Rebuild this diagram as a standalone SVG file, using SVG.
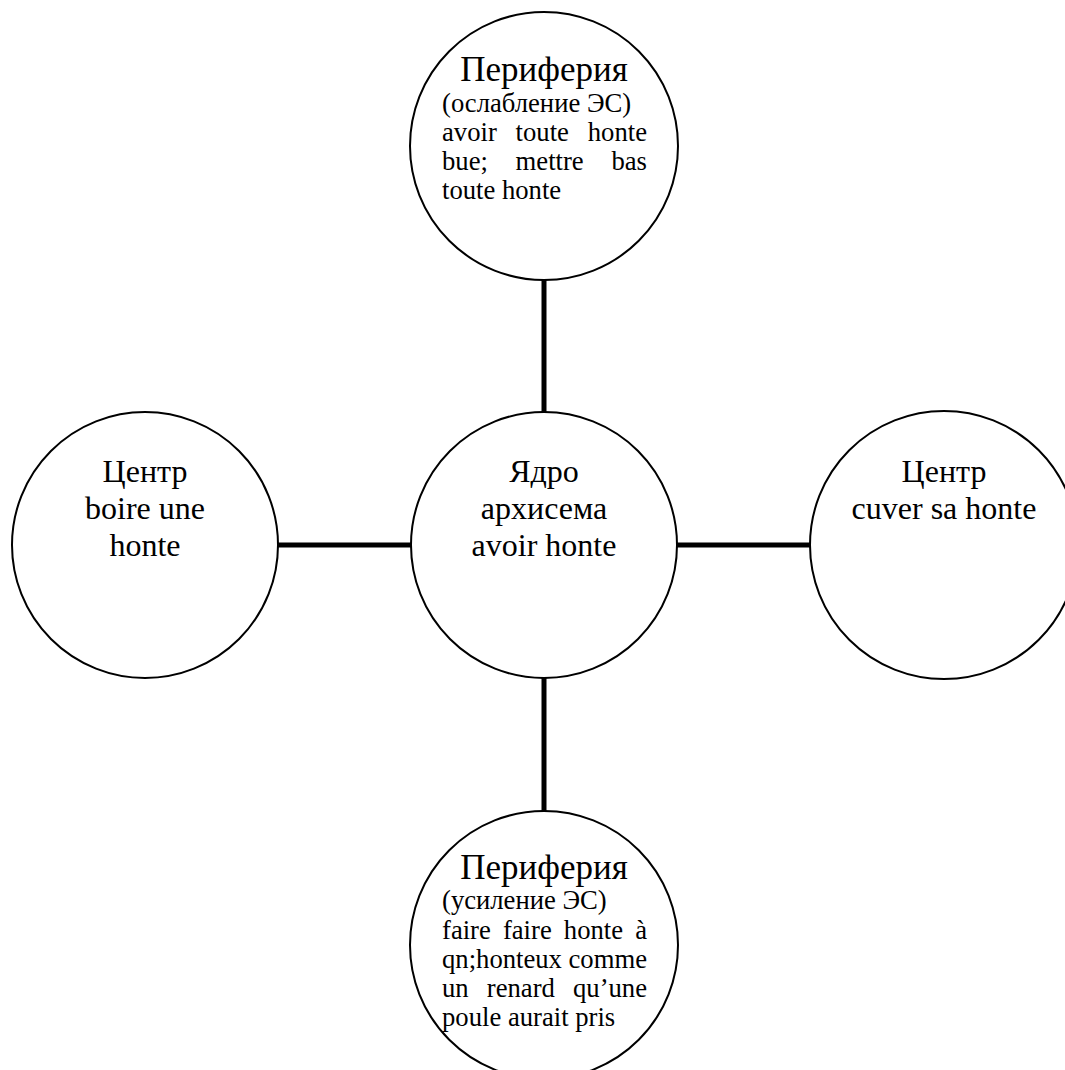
<svg xmlns="http://www.w3.org/2000/svg" width="1065" height="1070" viewBox="0 0 1065 1070">
<style>
.node circle{fill:#fff;stroke:#000;stroke-width:2}
.conn line{stroke:#000;stroke-width:5}
text{font-family:"Liberation Serif","Times New Roman",serif;fill:#000}
.big{font-size:32px}
.hd{font-size:35px}
.sm{font-size:26.67px}
.c{text-anchor:middle}
.r{text-anchor:end}
</style>
<rect width="1065" height="1070" fill="#fff"/>
<g id="connectors" class="conn">
<line x1="544" y1="279" x2="544" y2="412"/>
<line x1="544" y1="678" x2="544" y2="812"/>
<line x1="278" y1="545" x2="411" y2="545"/>
<line x1="677" y1="545" x2="811" y2="545"/>
</g>
<g id="node-core" class="node">
<circle cx="544" cy="545" r="133"/>
<text class="big c" x="544" y="482">Ядро</text>
<text class="big c" x="544" y="519">архисема</text>
<text class="big c" x="544" y="556">avoir honte</text>
</g>
<g id="node-top" class="node">
<circle cx="544" cy="146" r="134"/>
<text class="hd c" x="544" y="81">Периферия</text>
<text class="sm" x="442" y="112">(ослабление ЭС)</text>
<text class="sm" x="442" y="141">avoir</text>
<text class="sm" x="515.6" y="141">toute</text>
<text class="sm r" x="647" y="141">honte</text>
<text class="sm" x="442" y="170">bue;</text>
<text class="sm" x="515.6" y="170">mettre</text>
<text class="sm r" x="647" y="170">bas</text>
<text class="sm" x="442" y="199">toute honte</text>
</g>
<g id="node-left" class="node">
<circle cx="145" cy="545" r="133"/>
<text class="big c" x="145" y="482">Центр</text>
<text class="big c" x="145" y="519">boire une</text>
<text class="big c" x="145" y="556">honte</text>
</g>
<g id="node-right" class="node">
<circle cx="944" cy="545" r="134"/>
<text class="big c" x="944" y="482">Центр</text>
<text class="big c" x="944" y="519">cuver sa honte</text>
</g>
<g id="node-bottom" class="node">
<circle cx="544" cy="945" r="134"/>
<text class="hd c" x="544" y="879">Периферия</text>
<text class="sm" x="442" y="909">(усиление ЭС)</text>
<text class="sm" x="442" y="939">faire</text>
<text class="sm" x="502.9" y="939">faire</text>
<text class="sm" x="563.8" y="939">honte</text>
<text class="sm r" x="647" y="939">à</text>
<text class="sm" x="442" y="968">qn;honteux</text>
<text class="sm r" x="647" y="968">comme</text>
<text class="sm" x="442" y="997">un</text>
<text class="sm" x="486.8" y="997">renard</text>
<text class="sm r" x="647" y="997">qu’une</text>
<text class="sm" x="442" y="1026">poule aurait pris</text>
</g>
</svg>
